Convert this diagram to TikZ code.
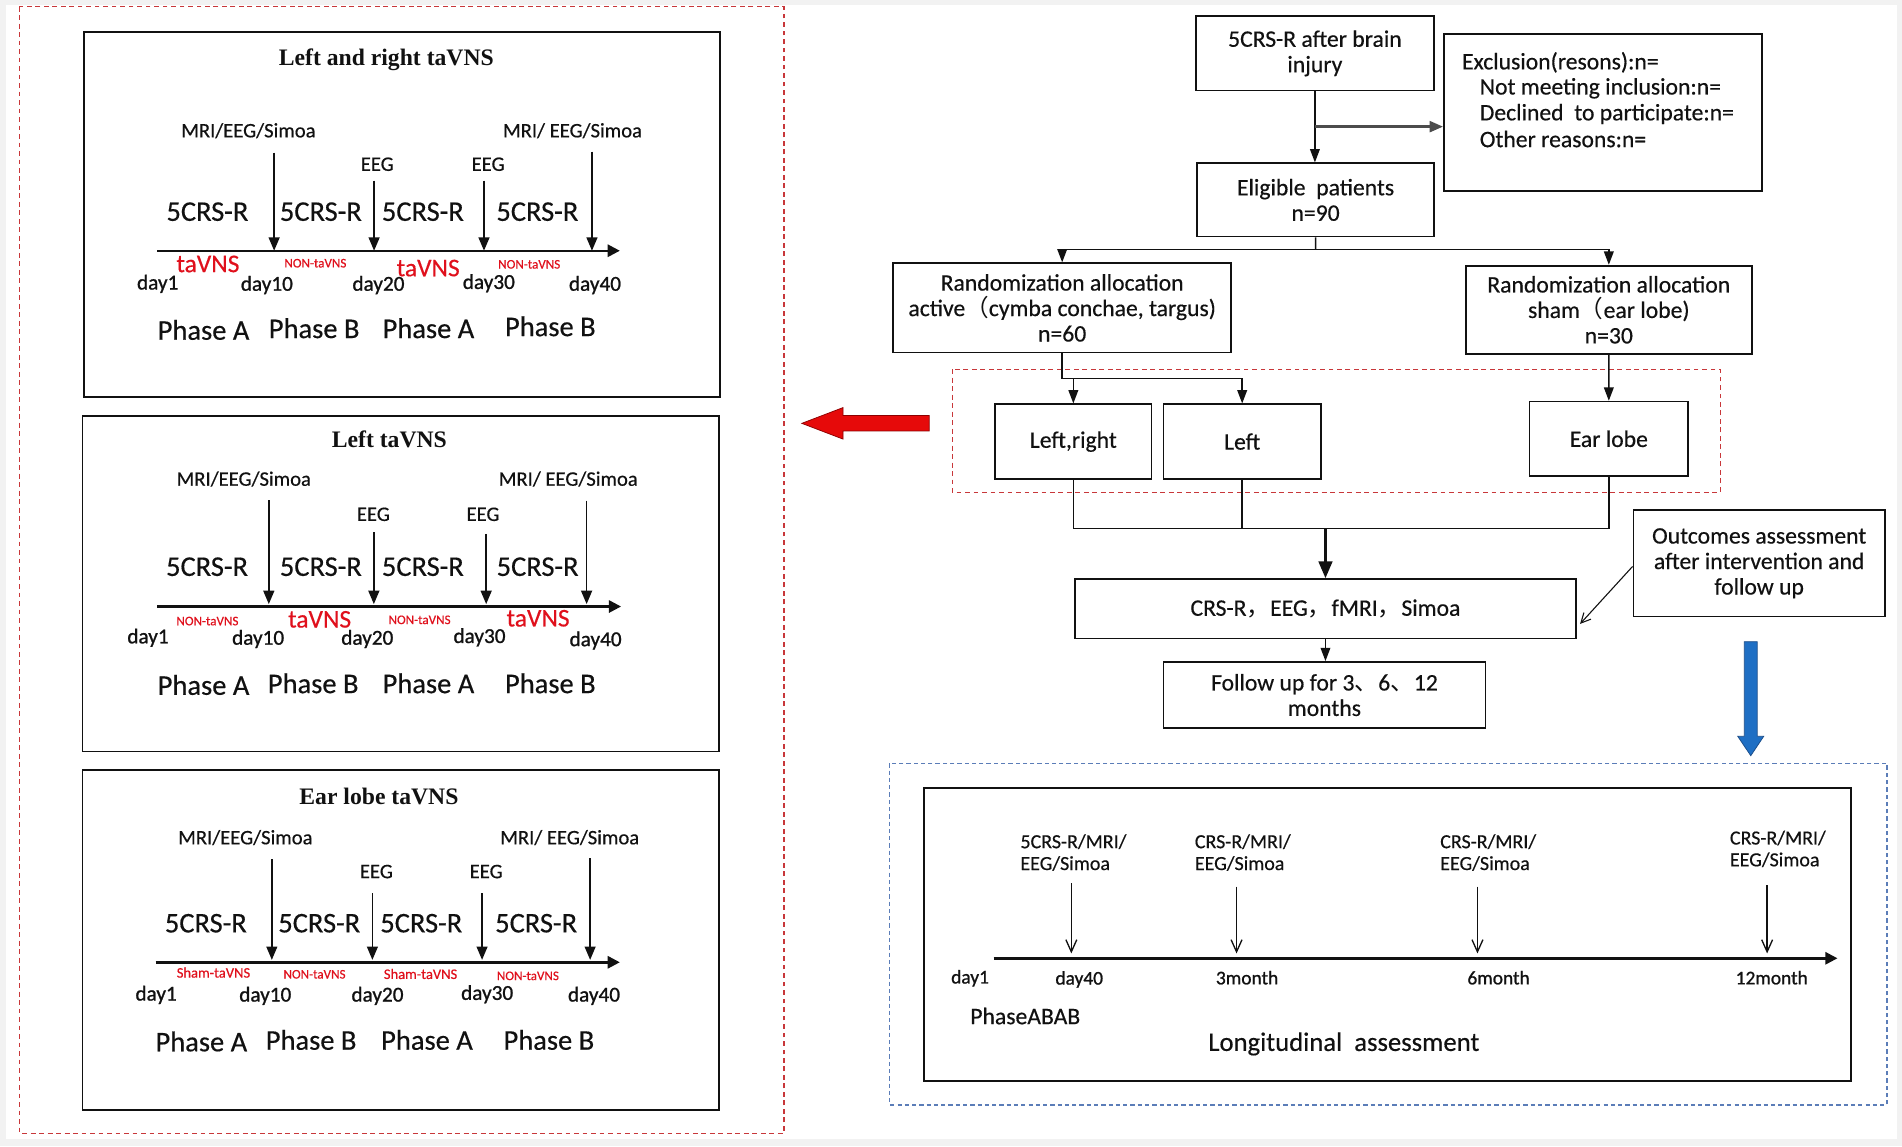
\documentclass[tikz,border=0pt]{standalone}
\usepackage{fontspec}
\setmainfont{Carlito}[FakeBold=0.4]
\newfontfamily\dayfont{Carlito}[FakeBold=1.0]
\newfontfamily\cjk{Noto Sans CJK SC}
\newfontfamily\ttlfont{Liberation Serif}
\usetikzlibrary{arrows.meta}
\definecolor{dred}{HTML}{C8373A}
\definecolor{tred}{HTML}{E0101C}
\definecolor{dblue}{HTML}{5B7DB8}
\definecolor{arrblue}{HTML}{1F6FC4}
\definecolor{arrblueedge}{HTML}{1B4C88}
\definecolor{bigred}{HTML}{E60A0A}
\definecolor{bggray}{HTML}{F2F2F2}
\definecolor{ink}{HTML}{111111}
\newcommand\mybox[6]{\node[bx, minimum width={((#4)-(#2))*1pt}, minimum height={((#5)-(#3))*1pt}] (#1) at ({((#2)+(#4))/2},{((#3)+(#5))/2}) {#6};}
\tikzset{
  bx/.style={draw=ink, line width=1.4pt, inner sep=0pt, align=center, text=ink, font=\fontsize{19.5}{21}\selectfont},
  ttl/.style={text=ink, font=\ttlfont\bfseries\fontsize{19.5}{22}\selectfont},
  crs/.style={text=ink, font=\fontsize{23.5}{26}\selectfont},
  phs/.style={text=ink, font=\fontsize{23.5}{26}\selectfont},
  mri/.style={text=ink, font=\fontsize{17}{19}\selectfont},
  dayl/.style={text=ink, font=\dayfont\fontsize{17.5}{19}\selectfont},
  redbig/.style={text=tred, font=\fontsize{21}{23}\selectfont},
  redsmall/.style={text=tred, font=\fontsize{10.8}{12}\selectfont},
  redsham/.style={text=tred, font=\fontsize{12}{14}\selectfont},
  fltext/.style={text=ink, anchor=west, font=\fontsize{19.5}{21}\selectfont},
  lgl/.style={text=ink, anchor=west, align=left, font=\fontsize{16.5}{18}\selectfont},
  lgday/.style={text=ink, font=\dayfont\fontsize{16}{18}\selectfont},
  axisarrow/.style={draw=ink, line width=2pt, -{Triangle[width=10pt,length=10pt]}},
  tkarrow/.style={draw=ink, line width=1.2pt, -{Triangle[width=9pt,length=11pt]}},
  flline/.style={draw=ink, line width=1.2pt},
  flarrow/.style={draw=ink, line width=1.2pt, -{Triangle[width=8pt,length=11pt]}},
  exarrow/.style={draw=ink!75, line width=2pt, -{Triangle[width=9pt,length=11pt]}},
  thickarrow/.style={draw=ink, line width=2.8pt, -{Triangle[width=11pt,length=14pt]}},
  openarrow/.style={draw=ink, line width=1.1pt, -{Straight Barb[width=9pt,length=10pt]}},
  thinbarb/.style={draw=ink, line width=0.9pt, -{Straight Barb[width=8pt,length=8pt]}},
  reddash/.style={draw=dred, line width=1.1pt, dash pattern=on 4pt off 3pt},
  bluedash/.style={draw=dblue, line width=1.1pt, dash pattern=on 3.5pt off 2.5pt},
}
\begin{document}
\begin{tikzpicture}[x=1pt,y=-1pt]
\useasboundingbox (0,0) rectangle (1568,945);
\fill[bggray] (0,0) rectangle (1568,945);
\fill[white] (5,4) rectangle (1564,939);

% ---------------- left outer dashed frame
\draw[reddash] (16,5.5) rectangle (646.3,934.2);

% ---------------- Panel A: Left and right taVNS
\mybox{pA}{69.4}{26.6}{593.8}{327}{}
\node[ttl] (pAt) at (318.5,48.9) {Left and right taVNS};
\node[mri] (pAm1) at (204.8,107.7) {MRI/EEG/Simoa};
\node[mri] (pAm2) at (472,107.7) {MRI/ EEG/Simoa};
\node[mri] (pAe1) at (311,135.4) {EEG};
\node[mri] (pAe2) at (402.4,135.4) {EEG};
\node[crs] (pAc1) at (171,174.5) {5CRS-R};
\node[crs] (pAc2) at (264.5,174.5) {5CRS-R};
\node[crs] (pAc3) at (348.6,174.5) {5CRS-R};
\node[crs] (pAc4) at (443,174.5) {5CRS-R};
\coordinate (pAs) at (129.5,206.7);
\coordinate (pAe) at (511,206.7);
\draw[axisarrow] (pAs) -- (pAe);
\coordinate (pAa1) at (226,125.9);
\coordinate (pAa2) at (308.4,149);
\coordinate (pAa3) at (399,149);
\coordinate (pAa4) at (488,125);
\foreach \k in {1,2,3,4} \draw[tkarrow] (pAa\k) -- (pAa\k |- pAs);
\node[redbig] (pAr1) at (171.4,217.6) {taVNS};
\node[redsmall] (pAr2) at (260,217) {NON-taVNS};
\node[redbig] (pAr3) at (353,221) {taVNS};
\node[redsmall] (pAr4) at (436.3,217.9) {NON-taVNS};
\node[dayl] (pAd1) at (130,234) {day1};
\node[dayl] (pAd2) at (220,235) {day10};
\node[dayl] (pAd3) at (312,235) {day20};
\node[dayl] (pAd4) at (403,233.5) {day30};
\node[dayl] (pAd5) at (490.5,235) {day40};
\node[phs] (pAp1) at (167.8,272) {Phase A};
\node[phs] (pAp2) at (259,270.6) {Phase B};
\node[phs] (pAp3) at (353.2,270.6) {Phase A};
\node[phs] (pAp4) at (453.7,269) {Phase B};

% ---------------- Panel B: Left taVNS
\mybox{pB}{68.1}{342.7}{593}{619.6}{}
\node[ttl] (pBt) at (321,362.2) {Left taVNS};
\node[mri] (pBm1) at (201,394.9) {MRI/EEG/Simoa};
\node[mri] (pBm2) at (468.5,394.9) {MRI/ EEG/Simoa};
\node[mri] (pBe1) at (307.8,424) {EEG};
\node[mri] (pBe2) at (398.2,424) {EEG};
\node[crs] (pBc1) at (170.7,467.2) {5CRS-R};
\node[crs] (pBc2) at (264.5,467.2) {5CRS-R};
\node[crs] (pBc3) at (348.6,467.2) {5CRS-R};
\node[crs] (pBc4) at (443.2,467.2) {5CRS-R};
\coordinate (pBs) at (129.5,500);
\coordinate (pBe) at (512,500);
\draw[axisarrow] (pBs) -- (pBe);
\coordinate (pBa1) at (221.6,412.2);
\coordinate (pBa2) at (308.2,438.9);
\coordinate (pBa3) at (400.8,440.2);
\coordinate (pBa4) at (483.6,412.8);
\foreach \k in {1,2,3,4} \draw[tkarrow] (pBa\k) -- ([yshift=2pt]pBa\k |- pBs);
\node[redsmall] (pBr1) at (171,512) {NON-taVNS};
\node[redbig] (pBr2) at (263.5,510.6) {taVNS};
\node[redsmall] (pBr3) at (345.9,511) {NON-taVNS};
\node[redbig] (pBr4) at (443.6,509.7) {taVNS};
\node[dayl] (pBd1) at (122,525.7) {day1};
\node[dayl] (pBd2) at (212.8,526.8) {day10};
\node[dayl] (pBd3) at (302.8,526.8) {day20};
\node[dayl] (pBd4) at (395.3,525.4) {day30};
\node[dayl] (pBd5) at (491,528) {day40};
\node[phs] (pBp1) at (167.8,564.7) {Phase A};
\node[phs] (pBp2) at (258.2,563.3) {Phase B};
\node[phs] (pBp3) at (353.2,563.3) {Phase A};
\node[phs] (pBp4) at (453.7,563.3) {Phase B};

% ---------------- Panel C: Ear lobe taVNS
\mybox{pC}{68.1}{634.7}{593}{915}{}
\node[ttl] (pCt) at (312.4,656.7) {Ear lobe taVNS};
\node[mri] (pCm1) at (202.3,690.5) {MRI/EEG/Simoa};
\node[mri] (pCm2) at (469.7,690.5) {MRI/ EEG/Simoa};
\node[mri] (pCe1) at (310.3,718.5) {EEG};
\node[mri] (pCe2) at (400.8,718.5) {EEG};
\node[crs] (pCc1) at (169.7,761.1) {5CRS-R};
\node[crs] (pCc2) at (263.2,761.1) {5CRS-R};
\node[crs] (pCc3) at (347.3,761.1) {5CRS-R};
\node[crs] (pCc4) at (442,761.1) {5CRS-R};
\coordinate (pCs) at (128.3,793.3);
\coordinate (pCe) at (511,793.3);
\draw[axisarrow] (pCs) -- (pCe);
\coordinate (pCa1) at (224.1,708.4);
\coordinate (pCa2) at (307,736.4);
\coordinate (pCa3) at (397.4,736.4);
\coordinate (pCa4) at (486.5,707.5);
\foreach \k in {1,2,3,4} \draw[tkarrow] (pCa\k) -- ([yshift=2pt]pCa\k |- pCs);
\node[redsham] (pCr1) at (176,801.8) {Sham-taVNS};
\node[redsmall] (pCr2) at (259.3,803.2) {NON-taVNS};
\node[redsham] (pCr3) at (346.7,802.9) {Sham-taVNS};
\node[redsmall] (pCr4) at (435.2,804.5) {NON-taVNS};
\node[dayl] (pCd1) at (128.7,820.2) {day1};
\node[dayl] (pCd2) at (218.7,821) {day10};
\node[dayl] (pCd3) at (311.2,821) {day20};
\node[dayl] (pCd4) at (401.6,819.6) {day30};
\node[dayl] (pCd5) at (489.7,821) {day40};
\node[phs] (pCp1) at (166,858.6) {Phase A};
\node[phs] (pCp2) at (256.5,857.3) {Phase B};
\node[phs] (pCp3) at (352,857.3) {Phase A};
\node[phs] (pCp4) at (452.5,857.3) {Phase B};

% ---------------- big red arrow
\fill[bigred, draw=red!55!black, line width=0.6pt] (766,342.6) -- (695,342.6) -- (695,336) -- (661,349) -- (695,362) -- (695,355.3) -- (766,355.3) -- cycle;

% ---------------- flowchart
\mybox{f1}{985.8}{13.2}{1182.2}{74.7}{5CRS-R after brain\\injury}
\mybox{fx}{1190.3}{28}{1452.4}{157.4}{}
\node[fltext] (fx1) at (1201.7,51.4) {Exclusion(resons):n=};
\node[fltext] (fx2) at (1216.4,72.8) {Not meeting inclusion:n=};
\node[fltext] (fx3) at (1216.4,94) {Declined\ \ to participate:n=};
\node[fltext] (fx4) at (1216.4,114.6) {Other reasons:n=};
\mybox{f2}{986.9}{134.6}{1182.2}{195}{Eligible\ \ patients\\n=90}
\mybox{f3}{736.2}{217}{1015.1}{290.7}{Randomization allocation\\active{\cjk （}cymba conchae, targus)\\n=60}
\mybox{f4}{1208.3}{219}{1444.3}{291.8}{Randomization allocation\\sham{\cjk （}ear lobe)\\n=30}

\draw[flarrow] (f1.south) -- (f1.south |- f2.north);
\coordinate (exbr) at (1084,104.4);
\draw[exarrow] (exbr) -- (exbr -| fx.west);
\coordinate (elb) at (1084.5,205.5);
\draw[flline] (f2.south) -- (elb);
\draw[flline] (f3.north |- elb) -- (f4.north |- elb);
\draw[flarrow] (f3.north |- elb) -- (f3.north);
\draw[flarrow] (f4.north |- elb) -- (f4.north);

\draw[reddash] (785,304.4) rectangle (1418.2,405.8);
\mybox{g1}{820.3}{333.3}{949.4}{394.8}{Left,right}
\mybox{g2}{959.2}{333.3}{1088.9}{394.8}{Left}
\mybox{g3}{1260.9}{331.1}{1391.7}{392.4}{Ear lobe}
\coordinate (sp1) at (875.65,311.9);
\draw[flline] (f3.south) -- (sp1) -- (sp1 -| g2.north);
\draw[flarrow] (g1.north |- sp1) -- (g1.north);
\draw[flarrow] (g2.north |- sp1) -- (g2.north);
\draw[flarrow] (f4.south) -- (g3.north);

\mybox{h1}{886}{477.5}{1299.4}{526.4}{CRS-R{\cjk ，}EEG{\cjk ，}fMRI{\cjk ，}Simoa}
\mybox{h2}{959.2}{545.7}{1224.5}{600.3}{Follow up for 3{\cjk 、}6{\cjk 、}12\\months}
\mybox{h3}{1346.6}{420.4}{1553.9}{508.3}{Outcomes assessment\\after intervention and\\follow up}
\coordinate (mg) at (1092.7,435.5);
\draw[flline] (g1.south) -- (g1.south |- mg) -- (g3.south |- mg) -- (g3.south);
\draw[flline] (g2.south) -- (g2.south |- mg);
\draw[thickarrow] (mg) -- (h1.north);
\draw[flarrow] (h1.south) -- (h1.south |- h2.north);
\draw[thinbarb] ([yshift=-2.6pt]h3.west) -- ([xshift=2.5pt,yshift=-12.4pt]h1.east);

% ---------------- blue arrow
\fill[arrblue, draw=arrblueedge, line width=0.6pt] (1438,529) -- (1448.6,529) -- (1448.6,607) -- (1454,607) -- (1443.3,623) -- (1432.6,607) -- (1438,607) -- cycle;

% ---------------- longitudinal panel
\draw[bluedash] (733.5,629.3) rectangle (1555.5,910.9);
\mybox{lb}{761.7}{649.4}{1525.7}{890.9}{}
\coordinate (ls) at (819.2,790);
\coordinate (le) at (1514.8,790);
\draw[axisarrow] (ls) -- (le);
\coordinate (l1) at (883.2,728.2);
\coordinate (l2) at (1019.4,731);
\coordinate (l3) at (1218,731);
\coordinate (l4) at (1456.8,729.6);
\foreach \k in {1,2,3,4} \draw[openarrow] (l\k) -- ([yshift=4pt]l\k |- ls);
\node[lgl] (lt1) at (837.7,702.85) {5CRS-R/MRI/\\EEG/Simoa};
\node[lgl] (lt2) at (981.5,702.85) {CRS-R/MRI/\\EEG/Simoa};
\node[lgl] (lt3) at (1183.8,702.85) {CRS-R/MRI/\\EEG/Simoa};
\node[lgl] (lt4) at (1422.6,699.8) {CRS-R/MRI/\\EEG/Simoa};
\node[lgday] (ld1) at (799.7,806.5) {day1};
\node[lgday] (ld2) at (889.7,807.4) {day40};
\node[lgday] (ld3) at (1028.1,806) {3month};
\node[lgday] (ld4) at (1235.4,806) {6month};
\node[lgday] (ld5) at (1460.6,806) {12month};
\node[text=ink, font=\fontsize{19.5}{21}\selectfont] (lph) at (845.2,837.6) {PhaseABAB};
\node[text=ink, font=\fontsize{22}{24}\selectfont] (llong) at (1107.9,860.6) {Longitudinal\ \ assessment};
\end{tikzpicture}
\end{document}
